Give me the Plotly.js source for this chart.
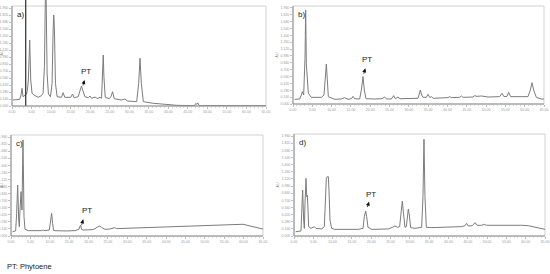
<!DOCTYPE html>
<html lang="en">
<head>
  <meta charset="UTF-8">
  <title>Chromatograms a-d</title>
  <script src="https://cdn.plot.ly/plotly-3.0.1.min.js"></script>
  <style>
    body { margin: 0; background: #fff; }
    #chart { width: 550px; height: 274px; }
  </style>
</head>
<body>
  <div id="chart"></div>
  <script>
    // retention time (min) and signal
    const timeA = [0.26,1.97,2.31,2.57,2.82,3.16,3.68,3.93,4.19,4.53,4.79,5.13,5.64,6.67,7.53,7.95,8.30,8.55,8.72,8.98,9.32,9.84,10.26,10.52,10.69,10.86,11.12,11.55,12.66,13.09,13.51,15.05,15.48,15.91,16.94,17.45,17.79,18.13,18.65,19.50,19.93,20.36,21.38,21.81,22.49,22.92,23.18,23.35,23.52,23.86,24.89,25.32,25.74,26.17,28.05,28.91,29.51,31.90,32.42,32.76,33.10,33.61,36.18,39.60,42.17,46.70,47.04,47.30,47.56,47.90,65.0];
    const signalA = [0.060,0.067,0.110,0.177,0.093,0.100,0.117,0.153,0.260,0.660,0.260,0.127,0.110,0.087,0.103,0.127,0.393,1.13,1.13,0.327,0.120,0.093,0.227,0.760,0.910,0.760,0.227,0.093,0.087,0.133,0.087,0.087,0.120,0.083,0.093,0.160,0.200,0.153,0.093,0.083,0.100,0.077,0.090,0.073,0.087,0.077,0.293,0.510,0.293,0.087,0.073,0.093,0.143,0.073,0.060,0.070,0.050,0.043,0.227,0.477,0.227,0.043,0.027,0.013,0.007,0.003,0.027,0.017,0.030,0.003,0.002];
    const markerTimeA = 3.51;

    const timeB = [0.43,1.73,2.16,2.42,2.76,2.93,3.11,3.19,3.28,3.37,3.45,3.54,3.71,3.97,4.75,6.04,7.34,8.03,8.29,8.63,8.89,9.15,10.79,12.52,13.38,14.24,15.11,15.54,15.97,17.26,17.70,18.13,18.47,18.90,21.15,23.05,23.74,24.26,25.46,26.07,26.50,27.19,27.71,29.78,32.37,32.63,32.97,33.32,33.66,34.53,34.96,35.48,35.82,36.34,38.41,40.14,40.57,41.00,43.16,43.59,44.02,46.61,47.04,47.65,48.77,50.50,53.52,54.12,54.64,55.42,55.85,56.37,59.13,60.86,61.46,61.89,62.32,63.01,64.31,65.00];
    const signalB = [0.048,0.051,0.092,0.126,0.092,0.211,0.466,0.687,0.959,0.687,0.415,0.364,0.245,0.109,0.068,0.065,0.068,0.092,0.245,0.408,0.245,0.075,0.048,0.051,0.065,0.048,0.054,0.078,0.054,0.051,0.143,0.279,0.143,0.054,0.051,0.054,0.071,0.051,0.051,0.085,0.054,0.071,0.054,0.054,0.058,0.092,0.143,0.092,0.068,0.068,0.099,0.065,0.075,0.058,0.061,0.065,0.075,0.065,0.068,0.082,0.068,0.071,0.085,0.078,0.082,0.071,0.075,0.109,0.075,0.078,0.119,0.075,0.075,0.075,0.143,0.218,0.143,0.068,0.051,0.051];

    const timeC = [0.43,1.20,1.46,1.72,1.98,2.15,2.32,2.58,2.83,3.01,3.09,3.18,3.35,3.61,4.47,6.61,7.90,8.33,8.76,9.88,10.13,10.48,10.73,10.99,14.34,16.49,17.52,17.78,17.95,18.20,18.63,21.21,22.07,22.76,23.36,24.22,25.50,26.36,26.79,27.22,31.51,40.10,48.69,57.28,58.99,59.85,62.43,65.00];
    const signalC = [0.043,0.050,0.224,0.505,0.158,0.092,0.257,0.439,0.257,0.719,0.950,0.719,0.191,0.066,0.053,0.050,0.053,0.059,0.053,0.059,0.125,0.224,0.125,0.053,0.050,0.053,0.066,0.086,0.109,0.066,0.059,0.063,0.083,0.099,0.086,0.066,0.069,0.076,0.083,0.073,0.079,0.092,0.102,0.116,0.119,0.116,0.092,0.069];

    const timeD = [0.43,1.81,1.99,2.24,2.50,2.68,2.85,3.11,3.28,3.45,3.63,3.80,4.40,4.83,5.27,5.70,7.16,7.86,8.11,8.37,8.63,8.89,9.06,9.32,9.75,10.62,16.66,17.87,18.21,18.56,18.82,19.16,20.11,24.43,25.46,26.15,26.84,27.36,27.80,28.05,28.31,28.74,29.09,29.35,29.61,29.87,30.21,31.33,33.06,33.40,33.66,33.92,34.27,35.65,43.42,44.28,44.71,45.14,46.18,46.87,47.39,48.60,49.29,49.89,51.19,51.62,52.05,53.78,54.21,54.64,58.96,60.68,62.41,65.00];
    const signalD = [0.042,0.049,0.222,0.451,0.157,0.075,0.320,0.565,0.386,0.402,0.255,0.092,0.075,0.085,0.092,0.075,0.069,0.092,0.320,0.565,0.582,0.582,0.451,0.157,0.075,0.065,0.065,0.075,0.190,0.245,0.190,0.085,0.065,0.069,0.085,0.098,0.085,0.092,0.255,0.343,0.239,0.085,0.092,0.222,0.265,0.206,0.082,0.075,0.085,0.386,0.948,0.386,0.085,0.082,0.092,0.101,0.124,0.098,0.101,0.131,0.105,0.105,0.114,0.105,0.105,0.111,0.105,0.105,0.108,0.105,0.105,0.101,0.088,0.065];

    const panelLabels = ['a)', 'b)', 'c)', 'd)'];
    // PT peak: label position and arrow tip per panel
    const ptText = [[18.9, 0.35], [19.25, 0.456], [19.67, 0.257], [19.85, 0.408]];
    const ptTip = [[18.56, 0.26], [18.73, 0.364], [18.63, 0.165], [19.42, 0.337]];

    const xTickVals = [0,5,10,15,20,25,30,35,40,45,50,55,60,65];
    const xTickText = xTickVals.map(v => v.toFixed(2));
    const yTickVals = [0,0.07,0.14,0.21,0.28,0.35,0.42,0.49,0.56,0.63,0.70,0.77,0.84,0.91,0.98];
    const yTickText = yTickVals.map(v => (v * 2).toFixed(3));

    // panel boxes in pixels: [left, top, right, bottom]
    const W = 550, H = 274;
    const boxes = [[12, 6, 266, 106], [293, 6, 544, 104], [11, 135, 263, 236], [294, 134, 545, 236]];

    const lineColor = '#7c7c7c';
    const traces = [
      {x: timeA, y: signalA, xaxis: 'x', yaxis: 'y'},
      {x: timeB, y: signalB, xaxis: 'x2', yaxis: 'y2'},
      {x: timeC, y: signalC, xaxis: 'x3', yaxis: 'y3'},
      {x: timeD, y: signalD, xaxis: 'x4', yaxis: 'y4'}
    ].map(t => Object.assign(t, {
      type: 'scatter', mode: 'lines', hoverinfo: 'skip',
      line: {color: lineColor, width: 1}
    }));
    traces.push({
      x: [markerTimeA, markerTimeA], y: [0, 1.1], xaxis: 'x', yaxis: 'y',
      type: 'scatter', mode: 'lines', hoverinfo: 'skip',
      line: {color: '#2b2b2b', width: 1.2}
    });

    const tickFont = {family: 'Liberation Sans, Arial, sans-serif', size: 3.5, color: '#9a9a9a'};
    const layout = {
      width: W, height: H,
      margin: {l: 0, r: 0, t: 0, b: 0},
      paper_bgcolor: '#fff', plot_bgcolor: 'rgba(0,0,0,0)',
      showlegend: false,
      font: {family: 'Liberation Sans, Arial, sans-serif', color: '#222'},
      shapes: [], annotations: []
    };

    boxes.forEach((b, i) => {
      const n = i === 0 ? '' : String(i + 1);
      const top = i === 0 ? 0 : b[1];   // panel a: peaks run above the frame
      const yMax = i === 0 ? 1 + b[1] / (b[3] - b[1]) : 1;
      layout['xaxis' + n] = {
        domain: [b[0] / W, b[2] / W], range: [0, 65], anchor: 'y' + n,
        showgrid: false, zeroline: false, showline: false,
        tickvals: xTickVals, ticktext: xTickText, tickfont: tickFont,
        ticks: 'outside', ticklen: 2, tickcolor: '#999', tickwidth: 0.6,
        minor: {ticks: 'outside', ticklen: 1, tickcolor: '#bbb', dtick: 1}
      };
      layout['yaxis' + n] = {
        domain: [1 - b[3] / H, 1 - top / H], range: [0, yMax], anchor: 'x' + n,
        showgrid: false, zeroline: false, showline: false,
        tickvals: yTickVals, ticktext: yTickText, tickfont: tickFont,
        ticks: 'outside', ticklen: 2, tickcolor: '#999', tickwidth: 0.6,
        title: {text: 'AU', font: {size: 3.5, color: '#777'}, standoff: 2}
      };
      // frame: light top/right, darker axis lines
      layout.shapes.push({type: 'rect', xref: 'paper', yref: 'paper',
        x0: b[0] / W, x1: b[2] / W, y0: 1 - b[3] / H, y1: 1 - b[1] / H,
        line: {color: '#d2d2d2', width: 1}, layer: 'below'});
      layout.shapes.push({type: 'line', xref: 'paper', yref: 'paper',
        x0: b[0] / W, x1: b[2] / W, y0: 1 - b[3] / H, y1: 1 - b[3] / H,
        line: {color: '#8c8c8c', width: 1}});
      layout.shapes.push({type: 'line', xref: 'paper', yref: 'paper',
        x0: b[0] / W, x1: b[0] / W, y0: 1 - b[3] / H, y1: 1 - b[1] / H,
        line: {color: '#8c8c8c', width: 1}});

      layout.annotations.push({xref: 'paper', yref: 'paper',
        x: (b[0] + 3) / W, y: 1 - (b[1] + 2) / H, xanchor: 'left', yanchor: 'top',
        text: panelLabels[i], showarrow: false, font: {size: 8, color: '#222'}});
      layout.annotations.push({xref: 'x' + n, yref: 'y' + n,
        x: ptText[i][0], y: ptText[i][1], text: 'PT', showarrow: false,
        font: {size: 8, color: '#222'}});
      layout.annotations.push({xref: 'x' + n, yref: 'y' + n,
        x: ptTip[i][0], y: ptTip[i][1], text: '', showarrow: true,
        ax: -2, ay: 7, arrowhead: 2, arrowsize: 1, arrowwidth: 0.8, arrowcolor: '#111'});
    });

    layout.annotations.push({xref: 'paper', yref: 'paper', x: 5 / W, y: 1 - 266 / H,
      xanchor: 'left', yanchor: 'middle', text: 'PT: Phytoene', showarrow: false,
      font: {size: 7.5, color: '#222'}});

    Plotly.newPlot('chart', traces, layout, {staticPlot: true});
  </script>
</body>
</html>
